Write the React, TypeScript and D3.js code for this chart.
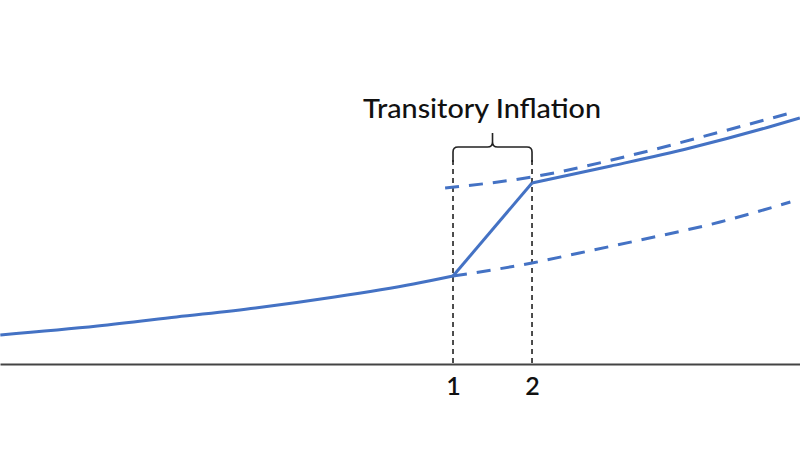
import React, { useRef, useEffect } from 'react';
import * as d3 from 'd3';

interface Pt {
  t: number;
  v: number;
}

// Time periods (x) and price-level values (y)
const preT = [-4.73, -3.5, -2.5, -1.5, -0.5, 0.5, 1];
const preV = [29, 38, 47, 56, 67, 80, 88];

const jumpT = [1, 2];
const jumpV = [88, 181];

const postT = [2, 3, 4, 5, 5.39];
const postV = [181, 198, 216, 237, 246];

const upperT = [0.9, 2, 3.37, 4.38, 5.27];
const upperV = [176, 187, 211, 232, 251];

const lowerT = [1, 2, 2.6, 3.37, 4.38, 5.27];
const lowerV = [88, 101, 111, 124, 142, 162];

const tickValues = [1, 2];
const tickLabels = ['1', '2'];
const annotation = 'Transitory Inflation';

const zip = (ts: number[], vs: number[]): Pt[] => ts.map((t, i) => ({ t, v: vs[i] }));

const App: React.FC = () => {
  const svgRef = useRef<SVGSVGElement | null>(null);
  const width = 800;
  const height = 450;
  const blue = '#4472C4';

  useEffect(() => {
    if (!svgRef.current) return;
    const svg = d3.select(svgRef.current);
    svg.selectAll('*').remove();

    const x = d3.scaleLinear().domain([-4.734, 5.392]).range([0, width]);
    const y = d3.scaleLinear().domain([0, 364]).range([364, 0]);

    const line = d3
      .line<Pt>()
      .x((d) => x(d.t))
      .y((d) => y(d.v))
      .curve(d3.curveMonotoneX);

    // x axis
    const axis = svg
      .append('g')
      .attr('transform', `translate(0,${y(0)})`)
      .call(
        d3
          .axisBottom(x)
          .tickValues(tickValues)
          .tickSize(0)
          .tickPadding(13)
          .tickFormat((d, i) => tickLabels[i])
      );
    axis.select('.domain').attr('stroke', '#444').attr('stroke-width', 2);
    axis
      .selectAll('text')
      .attr('fill', '#111')
      .style('font-family', 'Lato, sans-serif')
      .style('font-weight', '600')
      .style('font-size', '25px');

    // dashed guides
    const guideTop = 160;
    tickValues.forEach((t) => {
      svg
        .append('line')
        .attr('x1', x(t))
        .attr('x2', x(t))
        .attr('y1', guideTop)
        .attr('y2', y(0))
        .attr('stroke', '#222')
        .attr('stroke-width', 1.6)
        .attr('stroke-dasharray', '5,4');
    });

    // bracket
    const x1 = x(1);
    const x2 = x(2);
    const xm = (x1 + x2) / 2;
    const by = 147;
    const r = 5;
    const bracket = `M${x1},${guideTop + 2} V${by + r} Q${x1},${by} ${x1 + r},${by} H${xm - r} Q${xm},${by} ${xm},${by - r} V${by - 14}
      M${xm},${by - r} Q${xm},${by} ${xm + r},${by} H${x2 - r} Q${x2},${by} ${x2},${by + r} V${guideTop + 2}`;
    svg
      .append('path')
      .attr('d', bracket)
      .attr('fill', 'none')
      .attr('stroke', '#222')
      .attr('stroke-width', 1.6);

    svg
      .append('text')
      .attr('x', 482)
      .attr('y', 118)
      .attr('text-anchor', 'middle')
      .attr('fill', '#111')
      .style('font-family', 'Lato, sans-serif')
      .style('font-weight', '500')
      .style('font-size', '27px')
      .attr('textLength', 238)
      .attr('lengthAdjust', 'spacingAndGlyphs')
      .text(annotation);

    // dashed counterfactual paths
    [zip(upperT, upperV), zip(lowerT, lowerV)].forEach((d) => {
      svg
        .append('path')
        .datum(d)
        .attr('fill', 'none')
        .attr('stroke', blue)
        .attr('stroke-width', 3)
        .attr('stroke-dasharray', '14,10')
        .attr('d', line);
    });

    // solid realised path
    [zip(preT, preV), zip(jumpT, jumpV), zip(postT, postV)].forEach((d) => {
      svg
        .append('path')
        .datum(d)
        .attr('fill', 'none')
        .attr('stroke', blue)
        .attr('stroke-width', 3)
        .attr('stroke-linejoin', 'round')
        .attr('d', d.length === 2 ? d3.line<Pt>().x((p) => x(p.t)).y((p) => y(p.v)) : line);
    });
  }, []);

  return (
    <div style={{ position: 'fixed', left: 0, top: 0, width, height, background: '#fff' }}>
      <svg ref={svgRef} width={width} height={height} style={{ display: 'block' }} />
    </div>
  );
};

export default App;
